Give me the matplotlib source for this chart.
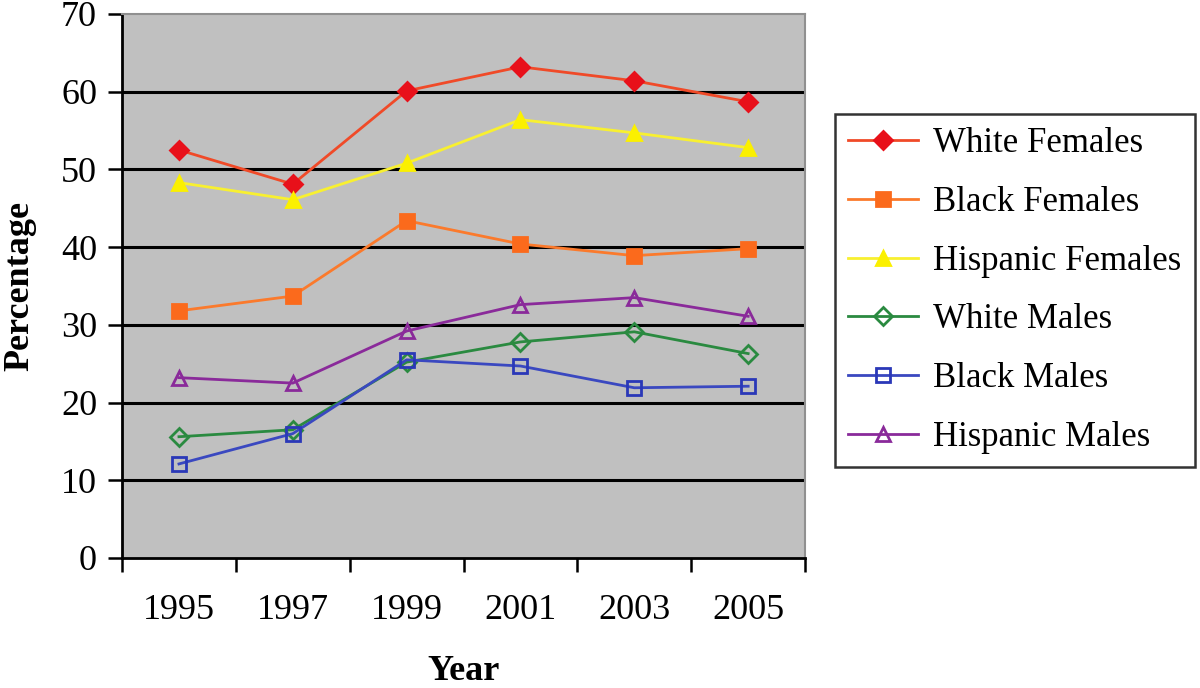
import numpy as np
import matplotlib.pyplot as plt

years = ["1995", "1997", "1999", "2001", "2003", "2005"]

white_females = [52.5, 48.1, 60.1, 63.2, 61.4, 58.7]
black_females = [31.8, 33.7, 43.4, 40.4, 38.9, 39.8]
hispanic_females = [48.3, 46.1, 50.8, 56.4, 54.7, 52.8]
white_males = [15.6, 16.5, 25.2, 27.8, 29.1, 26.3]
black_males = [12.1, 16.0, 25.5, 24.7, 21.9, 22.1]
hispanic_males = [23.2, 22.5, 29.2, 32.6, 33.5, 31.1]

series = [
    ("White Females", white_females, "#f04a28", "D", "#e8101a", "#e8101a"),
    ("Black Females", black_females, "#fb7a2c", "s", "#fb6a1c", "#fb6a1c"),
    ("Hispanic Females", hispanic_females, "#f8f030", "^", "#fbf000", "#fbf000"),
    ("White Males", white_males, "#2a8a40", "D", "none", "#2a8a40"),
    ("Black Males", black_males, "#3a48c0", "s", "none", "#2a38b8"),
    ("Hispanic Males", hispanic_males, "#8a2a9a", "^", "none", "#8a2a9a"),
]

plt.rcParams["font.family"] = ["Liberation Serif", "DejaVu Serif"]

fig = plt.figure(figsize=(12, 6.88), dpi=100)
ax = fig.add_axes([0.1017, 0.189, 0.5692, 0.7907])
ax.set_facecolor("#c0c0c0")

x = np.arange(len(years))
for label, vals, color, marker, mfc, mec in series:
    ax.plot(
        x,
        vals,
        color=color,
        linewidth=2,
        marker=marker,
        markersize=10 if marker != "D" else 9,
        markerfacecolor=mfc,
        markeredgecolor=mec,
        markeredgewidth=2,
        label=label,
        zorder=3,
    )

# black horizontal gridlines
for yv in range(10, 70, 10):
    ax.axhline(yv, color="black", linewidth=2.2, zorder=1)

ax.set_xlim(-0.5, len(years) - 0.5)
ax.set_ylim(0, 70)
ax.set_yticks(range(0, 71, 10))
ax.set_xticks(x)
ax.set_xticklabels(years)
ax.set_xticks(np.arange(-0.5, len(years), 1), minor=True)
ax.tick_params(axis="x", which="major", length=0, labelsize=26, pad=26)
ax.tick_params(axis="x", which="minor", length=10, width=1.8, direction="out")
ax.tick_params(axis="y", length=10, width=1.8, direction="out", labelsize=26, pad=8)

for side in ["left", "bottom"]:
    ax.spines[side].set_color("black")
    ax.spines[side].set_linewidth(2)
for side in ["top", "right"]:
    ax.spines[side].set_color("#909090")
    ax.spines[side].set_linewidth(1.5)

ax.set_xlabel("Year", fontsize=26, fontweight="bold", labelpad=20)
ax.set_ylabel("Percentage", fontsize=26, fontweight="bold", labelpad=18)

leg = fig.legend(
    loc="upper left",
    bbox_to_anchor=(0.696, 0.834),
    fontsize=25,
    frameon=True,
    fancybox=False,
    edgecolor="black",
    handlelength=2.0,
    labelspacing=0.74,
    borderpad=0.38,
    borderaxespad=0,
    handletextpad=0.45,
)
leg.get_frame().set_linewidth(1.8)

plt.savefig("out.png", dpi=100)
